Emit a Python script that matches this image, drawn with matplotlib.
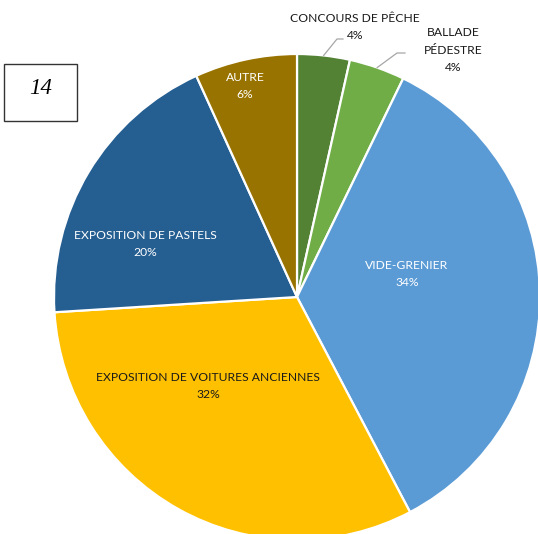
import numpy as np
import matplotlib.pyplot as plt
from matplotlib.patches import Rectangle

# Donnees (parts en %)
categories = ['CONCOURS DE PÊCHE', 'BALLADE\nPÉDESTRE', 'VIDE-GRENIER',
              'EXPOSITION DE VOITURES ANCIENNES', 'EXPOSITION DE PASTELS', 'AUTRE']
parts = [3.5, 3.7, 35.1, 31.7, 19.2, 6.8]
pourcentages = ['4%', '4%', '34%', '32%', '20%', '6%']
couleurs = ['#548235', '#70AD47', '#5B9BD5', '#FFC000', '#255E91', '#997300']

W, H = 538, 534
cx, cy, r = 297, H - 297, 243

fig = plt.figure(figsize=(W / 100, H / 100), dpi=100)
ax = fig.add_axes([0, 0, 1, 1])

wedges, _ = ax.pie(parts, colors=couleurs, startangle=90, counterclock=False,
                   center=(cx, cy), radius=r,
                   wedgeprops=dict(edgecolor='white', linewidth=1.6))

# pie() impose ses propres limites : on remet le repere en pixels
ax.set_xlim(0, W)
ax.set_ylim(0, H)
ax.set_aspect('equal')
ax.axis('off')

police = 'Lato'
taille = 8.7
interligne = 1.75

# etiquettes interieures (position en pixels, couleur du texte)
interieur = {
    2: (407, 274, 'white'),
    3: (208, 386, '#1a1a1a'),
    4: (145, 244, 'white'),
    5: (245, 86, 'white'),
}
for i, (x, y, c) in interieur.items():
    ax.text(x, H - y, categories[i] + '\n' + pourcentages[i], ha='center', va='center',
            color=c, fontsize=taille, family=police, linespacing=interligne)

# etiquettes exterieures avec ligne de rappel
exterieur = {
    0: (355, 27, (337, 39), (343, 39)),
    1: (453, 50, (397, 53), (405, 53)),
}
cumul = np.cumsum([0] + parts)
for i, (x, y, coude, fin) in exterieur.items():
    ax.text(x, H - y, categories[i] + '\n' + pourcentages[i], ha='center', va='center',
            color='#1a1a1a', fontsize=taille, family=police, linespacing=interligne)
    milieu = np.deg2rad(90 - 3.6 * (cumul[i] + parts[i] / 2))
    x0, y0 = cx + r * np.cos(milieu), cy + r * np.sin(milieu)
    ax.plot([x0, coude[0], fin[0]], [y0, H - coude[1], H - fin[1]],
            color='#a6a6a6', linewidth=0.9)

# cadre avec le numero
ax.add_patch(Rectangle((4, H - 121), 73, 57, facecolor='white', edgecolor='#333333', linewidth=1.0))
ax.text(41, H - 89, '14', ha='center', va='center', fontsize=16.5, style='italic',
        family='Liberation Serif', color='black')

fig.savefig('out.png', dpi=100)
